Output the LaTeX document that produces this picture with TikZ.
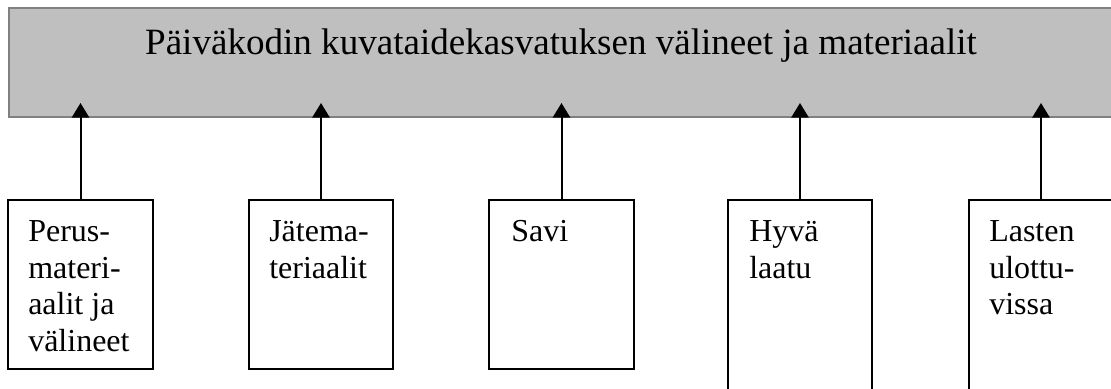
\documentclass[tikz,border=0pt]{standalone}
\usepackage{fontspec}
\setmainfont{Liberation Serif}
\usetikzlibrary{arrows.meta,fit}
\tikzset{
  header/.style={draw=black!50, fill=black!25, line width=1.2pt, inner sep=0pt},
  box/.style={draw=black, line width=1.5pt, inner sep=0pt},
  lbl/.style={anchor=north west, inner sep=0pt, align=left,
              font=\fontsize{24}{27.6}\selectfont},
  link/.style={line width=1.5pt, -{Triangle[length=11pt,width=13pt]}}
}
\begin{document}
\begin{tikzpicture}[x=0.75pt,y=-0.75pt]
\useasboundingbox (0,0) rectangle (1111,389);
\clip (0,0) rectangle (1111,389);
% heading bar
\node[header, fit={(9,8) (1125,117)}] (top) {};
\node[anchor=base, inner sep=0pt, font=\fontsize{27.8}{34}\selectfont] (title) at (561,54)
  {Päiväkodin kuvataidekasvatuksen välineet ja materiaalit};
% item boxes
\node[box, fit={(8,200) (153,369)}] (b1) {};
\node[box, fit={(249,200) (393,369)}] (b2) {};
\node[box, fit={(489,200) (634,369)}] (b3) {};
\node[box, fit={(728,200) (872,400)}] (b4) {};
\node[box, fit={(969,200) (1113,400)}] (b5) {};
% labels
\node[lbl] (l1) at (28,220) {Perus-\\materi-\\aalit ja\\välineet};
\node[lbl] (l2) at (269,220) {Jätema-\\teriaalit};
\node[lbl] (l3) at (511,220) {Savi};
\node[lbl] (l4) at (749,220) {Hyvä\\laatu};
\node[lbl] (l5) at (989,220) {Lasten\\ulottu-\\vissa};
% arrow tips reach into the heading bar
\coordinate (t1) at (80.5,103);
\coordinate (t2) at (321,103);
\coordinate (t3) at (561.5,103);
\coordinate (t4) at (800,103);
\coordinate (t5) at (1041,103);
\draw[link] (b1.north) -- (t1);
\draw[link] (b2.north) -- (t2);
\draw[link] (b3.north) -- (t3);
\draw[link] (b4.north) -- (t4);
\draw[link] (b5.north) -- (t5);
\end{tikzpicture}
\end{document}
